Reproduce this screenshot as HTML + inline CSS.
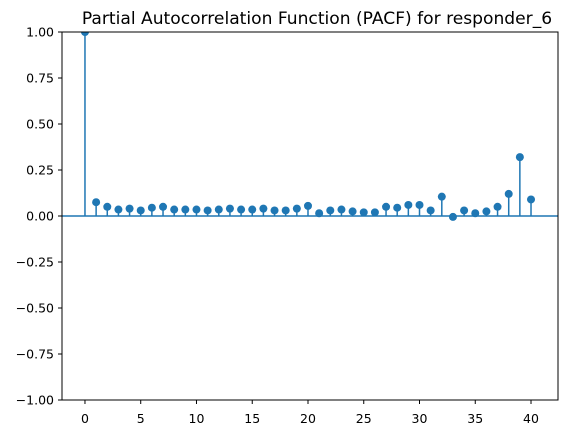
<!DOCTYPE html>
<html><head><meta charset="utf-8"><style>
body{margin:0;background:#fff;}
svg{display:block;font-family:"DejaVu Sans","Liberation Sans",sans-serif;}
</style></head><body>
<svg id="chart" width="568" height="435">
<defs><clipPath id="clip"><rect x="62" y="32" width="496" height="368"/></clipPath></defs>
<text x="317" y="24" text-anchor="middle" font-size="17.1" fill="#000">Partial Autocorrelation Function (PACF) for responder_6</text>
<g id="grid"></g>
<g id="marks" clip-path="url(#clip)"></g>
<rect x="62" y="32" width="496" height="368" fill="none" stroke="#000" stroke-width="1"/>
</svg>
<script>
const lags=[0,1,2,3,4,5,6,7,8,9,10,11,12,13,14,15,16,17,18,19,20,21,22,23,24,25,26,27,28,29,30,31,32,33,34,35,36,37,38,39,40];
const pacfValues=[1.0,0.075,0.05,0.035,0.04,0.03,0.045,0.05,0.035,0.035,0.035,0.03,0.035,0.04,0.035,0.035,0.04,0.03,0.03,0.04,0.055,0.015,0.03,0.035,0.025,0.02,0.02,0.05,0.045,0.06,0.06,0.03,0.105,-0.005,0.03,0.015,0.025,0.05,0.12,0.32,0.09];
const yTicks=[-1,-0.75,-0.5,-0.25,0,0.25,0.5,0.75,1];
const xTicks=[0,5,10,15,20,25,30,35,40];
const NS="http://www.w3.org/2000/svg";
const L=62,R=558,T=32,B=400;
const xMin=-2.06,xMax=42.42;
function sx(v){return L+(v-xMin)/(xMax-xMin)*(R-L);}
function sy(v){return T+(1-v)/2*(B-T);}
const g=document.getElementById('grid'),m=document.getElementById('marks');
function el(t,a,p){const e=document.createElementNS(NS,t);for(const k in a)e.setAttribute(k,a[k]);p.appendChild(e);return e;}
yTicks.forEach(v=>{
  const y=sy(v);
  const tk=el('line',{x1:L-4,x2:L,y1:y,y2:y,stroke:'#000'},g);
  
  
  const t=el('text',{x:L-8,y:y+4.5,'text-anchor':'end','font-size':12.5},g);
  t.textContent=v.toFixed(2).replace('-','\u2212');
  
  
});
xTicks.forEach(v=>{
  const x=sx(v);
  const tk=el('line',{x1:x,x2:x,y1:B,y2:B+4,stroke:'#000'},g);
  
  
  const t=el('text',{x:x,y:B+23,'text-anchor':'middle','font-size':12.5},g);
  t.textContent=v;
  
  
});
const zl=el('line',{x1:L,x2:R,y1:sy(0),y2:sy(0),stroke:'#1f77b4','stroke-width':1.5},m);


lags.forEach((k,i)=>{
  const x=sx(k),y=sy(pacfValues[i]);
  const s=el('line',{x1:x,x2:x,y1:sy(0),y2:y,stroke:'#1f77b4','stroke-width':1.5},m);
  
  
  const c=el('circle',{cx:x,cy:y,r:4,fill:'#1f77b4'},m);
  
  
});
</script>
</body></html>
